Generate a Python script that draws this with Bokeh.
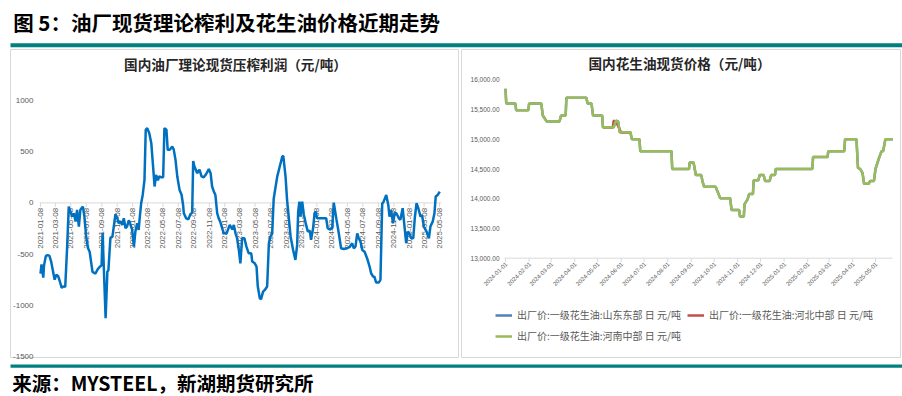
import pandas as pd
from math import pi
from bokeh.plotting import figure
from bokeh.layouts import column, row
from bokeh.models import Range1d, Legend, LegendItem
from bokeh.core.properties import value
from bokeh.embed import file_html
from bokeh.resources import INLINE

# ---------------- data ----------------
header_text = "图 5：油厂现货理论榨利及花生油价格近期走势"
footer_text = "来源：MYSTEEL，新湖期货研究所"
left_title = "国内油厂理论现货压榨利润（元/吨）"
right_title = "国内花生油现货价格（元/吨）"

margin_dates = [
    "2021-01-08", "2021-01-12", "2021-01-19", "2021-01-22", "2021-01-29", "2021-02-05", "2021-02-12",
    "2021-02-19", "2021-02-26", "2021-03-05", "2021-03-12", "2021-03-19", "2021-03-26", "2021-04-02",
    "2021-04-09", "2021-04-16", "2021-04-23", "2021-04-30", "2021-05-07", "2021-05-14", "2021-05-20",
    "2021-05-27", "2021-06-02", "2021-06-09", "2021-06-15", "2021-06-25", "2021-07-01", "2021-07-08",
    "2021-07-15", "2021-07-22", "2021-08-02", "2021-08-14", "2021-08-22", "2021-08-30", "2021-09-07",
    "2021-09-11", "2021-09-23", "2021-09-30", "2021-10-04", "2021-10-12", "2021-10-20", "2021-11-01",
    "2021-11-08", "2021-11-14", "2021-11-21", "2021-11-28", "2021-12-04", "2021-12-11", "2021-12-17",
    "2021-12-24", "2021-12-31", "2022-01-06", "2022-01-13", "2022-01-19", "2022-01-26", "2022-02-01",
    "2022-02-05", "2022-02-11", "2022-02-17", "2022-02-24", "2022-03-01", "2022-03-07", "2022-03-15",
    "2022-03-23", "2022-03-29", "2022-04-05", "2022-04-11", "2022-04-18", "2022-04-24", "2022-05-01",
    "2022-05-09", "2022-05-14", "2022-05-22", "2022-05-27", "2022-06-04", "2022-06-14", "2022-06-20",
    "2022-06-27", "2022-07-04", "2022-07-13", "2022-07-21", "2022-07-27", "2022-07-30", "2022-08-08",
    "2022-08-17", "2022-08-25", "2022-09-01", "2022-09-05", "2022-09-10", "2022-09-21", "2022-09-30",
    "2022-10-08", "2022-10-17", "2022-10-26", "2022-11-06", "2022-11-13", "2022-11-19", "2022-11-26",
    "2022-12-02", "2022-12-09", "2022-12-15", "2022-12-22", "2023-01-04", "2023-01-15", "2023-01-28",
    "2023-02-07", "2023-02-13", "2023-02-20", "2023-02-26", "2023-03-05", "2023-03-11", "2023-03-18",
    "2023-03-27", "2023-04-04", "2023-04-13", "2023-04-23", "2023-04-27", "2023-05-07", "2023-05-14",
    "2023-05-19", "2023-05-27", "2023-06-01", "2023-06-09", "2023-06-16", "2023-06-25", "2023-07-02",
    "2023-07-08", "2023-07-15", "2023-07-21", "2023-08-04", "2023-08-14", "2023-08-24", "2023-08-28",
    "2023-09-06", "2023-09-12", "2023-09-26", "2023-10-06", "2023-10-15", "2023-10-22", "2023-10-26",
    "2023-10-31", "2023-11-04", "2023-11-11", "2023-11-17", "2023-11-24", "2023-12-03", "2023-12-11",
    "2023-12-16", "2023-12-24", "2023-12-30", "2024-01-03", "2024-01-09", "2024-01-22", "2024-02-04",
    "2024-02-14", "2024-02-20", "2024-02-28", "2024-03-09", "2024-03-15", "2024-03-26", "2024-04-04",
    "2024-04-13", "2024-04-24", "2024-05-07", "2024-05-17", "2024-05-27", "2024-06-02", "2024-06-09",
    "2024-06-16", "2024-06-22", "2024-06-29", "2024-07-06", "2024-07-15", "2024-07-25", "2024-08-04",
    "2024-08-10", "2024-08-18", "2024-08-23", "2024-08-30", "2024-09-09", "2024-09-16", "2024-09-23",
    "2024-09-27", "2024-10-09", "2024-10-17", "2024-10-22", "2024-10-28", "2024-11-05", "2024-11-11",
    "2024-11-18", "2024-11-28", "2024-12-04", "2024-12-13", "2024-12-27", "2025-01-02", "2025-01-09",
    "2025-01-16", "2025-01-24", "2025-01-30", "2025-02-06", "2025-02-13", "2025-02-22", "2025-02-28",
    "2025-03-07", "2025-03-18", "2025-03-27", "2025-04-02", "2025-04-11", "2025-04-18", "2025-04-23",
    "2025-05-01", "2025-05-09",
]
margin_vals = [
    -690, -600, -730, -610, -520, -510, -515,
    -570, -660, -750, -700, -715, -770, -830,
    -815, -820, -460, -36, -90, -134, -100,
    -182, -68, -231, -68, -36, -134, -329,
    -440, -480, -674, -690, -650, -625, -610,
    -293, -1127, -670, -660, -342, -330, -110,
    -150, -199, -180, -215, -150, -248, -230,
    -170, -215, -260, -427, -280, -199, -264,
    -150, 0, 78, 225, 713, 730, 680,
    583, 390, 160, 274, 220, 260, 250,
    250, 730, 715, 518, 518, 550, 520,
    420, 257, 127, 80, -20, -101, -150,
    -160, -110, -95, 410, 355, 290, 325,
    260, 250, 280, 330, 290, 160, 110,
    78, -100, -150, -190, -297, -300, -215,
    -260, -215, -300, -345, -460, -590, -345,
    -345, -427, -492, -492, -573, -590, -622,
    -817, -931, -940, -866, -850, -817, -394,
    -330, -300, 40, 257, 355, 452, 460,
    257, 30, -330, -460, -557, -410, -85,
    13, -134, 13, -110, -190, -280, -270,
    -361, -250, -101, -85, -150, -150, -150,
    -150, -247, -260, -247, 3, -166, -297,
    -443, -450, -443, -430, -394, -443, -427,
    -297, -345, -378, -460, -476, -540, -622,
    -687, -720, -720, -778, -778, -752, -3,
    3, 78, -20, -134, -68, -199, -101,
    -101, -150, -165, -52, -394, -280, -300,
    -345, -345, -150, -3, -52, -134, -120,
    -231, -280, -345, -231, -183, -101, 62,
    78, 110,
]
left_xticks = [
    "2021-01-08", "2021-03-08", "2021-05-08", "2021-07-08", "2021-09-08", "2021-11-08",
    "2022-01-08", "2022-03-08", "2022-05-08", "2022-07-08", "2022-09-08", "2022-11-08",
    "2023-01-08", "2023-03-08", "2023-05-08", "2023-07-08", "2023-09-08", "2023-11-08",
    "2024-01-08", "2024-03-08", "2024-05-08", "2024-07-08", "2024-09-08", "2024-11-08",
    "2025-01-08", "2025-03-08", "2025-05-08",
]
left_yticks = [1000, 500, 0, -500, -1000, -1500]

price_dates = [
    "2024-01-01", "2024-01-02", "2024-01-14", "2024-01-15", "2024-01-31", "2024-02-01", "2024-02-17",
    "2024-02-19", "2024-02-24", "2024-03-12", "2024-03-14", "2024-03-20", "2024-03-21", "2024-04-16",
    "2024-04-18", "2024-04-23", "2024-04-25", "2024-05-07", "2024-05-08", "2024-05-22", "2024-05-25",
    "2024-05-28", "2024-05-30", "2024-06-13", "2024-06-15", "2024-06-25", "2024-06-26", "2024-08-06",
    "2024-08-07", "2024-08-29", "2024-08-30", "2024-09-04", "2024-09-07", "2024-09-14", "2024-09-16",
    "2024-09-18", "2024-10-03", "2024-10-09", "2024-10-22", "2024-10-24", "2024-11-03", "2024-11-04",
    "2024-11-09", "2024-11-10", "2024-11-14", "2024-11-16", "2024-11-21", "2024-11-22", "2024-11-28",
    "2024-11-30", "2024-12-05", "2024-12-07", "2024-12-13", "2024-12-15", "2024-12-20", "2024-12-21",
    "2025-02-07", "2025-02-08", "2025-02-27", "2025-02-28", "2025-03-21", "2025-03-22", "2025-04-06",
    "2025-04-08", "2025-04-11", "2025-04-14", "2025-04-16", "2025-04-22", "2025-04-24", "2025-04-29",
    "2025-05-01", "2025-05-06", "2025-05-09", "2025-05-11", "2025-05-14", "2025-05-24",
]
henan_vals = [
    15850, 15600, 15600, 15490, 15490, 15600, 15600,
    15400, 15300, 15300, 15400, 15400, 15700, 15700,
    15600, 15600, 15400, 15400, 15200, 15200, 15310,
    15300, 15120, 15120, 15000, 15000, 14800, 14800,
    14500, 14500, 14610, 14610, 14400, 14400, 14280,
    14200, 14200, 14010, 14010, 13810, 13810, 13700,
    13700, 13910, 13990, 14080, 14080, 14310, 14310,
    14400, 14400, 14300, 14300, 14400, 14400, 14500,
    14500, 14700, 14700, 14800, 14800, 15000, 15000,
    14520, 14500, 14430, 14250, 14250, 14300, 14300,
    14500, 14700, 14800, 14800, 15000, 15000,
]
# 山东东部 is fully hidden under 河南中部 in the picture: same readings
shandong_dates = list(price_dates)
shandong_vals = list(henan_vals)
# 河北中部 only shows where it departs from 河南中部
hebei_dates = ["2024-05-08", "2024-05-21", "2024-05-22", "2024-05-25", "2024-06-01", "2024-06-13"]
hebei_vals = [15200, 15200, 15310, 15300, 15115, 15120]

right_xticks = [
    "2024-01-01", "2024-02-01", "2024-03-01", "2024-04-01", "2024-05-01", "2024-06-01",
    "2024-07-01", "2024-08-01", "2024-09-01", "2024-10-01", "2024-11-01", "2024-12-01",
    "2025-01-01", "2025-02-01", "2025-03-01", "2025-04-01", "2025-05-01",
]
right_yticks = [16000, 15500, 15000, 14500, 14000, 13500, 13000]
legend_labels = [
    "出厂价:一级花生油:山东东部 日 元/吨",
    "出厂价:一级花生油:河北中部 日 元/吨",
    "出厂价:一级花生油:河南中部 日 元/吨",
]

# ---------------- styles ----------------
CJK = "Noto Sans CJK SC"
NUM = "Liberation Sans"
GRAY = "#595959"
TEAL = "#008080"
BORDER = "#d9d9d9"
AXIS = "#d9d9d9"


def ms(s):
    return pd.Timestamp(s).value / 1e6


def make_panel(width, height, x_ref, y_ref):
    (d0, px0), (d1, px1) = x_ref
    m0, m1 = ms(d0), ms(d1)
    kx = (m1 - m0) / (px1 - px0)
    (v0, py0), (v1, py1) = y_ref
    ky = (v1 - v0) / (py1 - py0)
    x_start = m0 - px0 * kx
    x_end = m0 + (width - px0) * kx
    y_top = v0 - py0 * ky
    y_bot = v0 + (height - py0) * ky
    p = figure(width=width, height=height, title=None,
               x_range=Range1d(x_start, x_end), y_range=Range1d(y_bot, y_top),
               x_axis_location=None, y_axis_location=None,
               toolbar_location=None, output_backend="svg", min_border=0,
               outline_line_color=None, background_fill_color="white",
               border_fill_color="white")
    p.xgrid.grid_line_color = None
    p.ygrid.grid_line_color = None

    def fx(px):
        return x_start + px * kx

    def fy(py):
        return y_top + py * ky

    return p, fx, fy, ky


# ---------------- left panel ----------------
pL, fxL, fyL, kyL = make_panel(459, 312, (("2021-01-08", 40), ("2025-05-08", 439)),
                               ((1000, 52), (-1500, 308)))
pL.quad(left=[fxL(10)], right=[fxL(458)], top=[fyL(1)], bottom=[fyL(309)],
        fill_color=None, line_color=BORDER, line_width=1)
pL.segment(x0=[fxL(39)], x1=[fxL(441)], y0=[0], y1=[0], line_color=AXIS, line_width=1)
lx = pd.to_datetime(left_xticks)
pL.segment(x0=lx, x1=lx, y0=[0] * len(lx), y1=[4 * kyL] * len(lx), line_color=AXIS, line_width=1)
pL.text(x=lx, y=[0] * len(lx), text=left_xticks, angle=pi / 2, text_align="right",
        text_baseline="middle", y_offset=5, text_font=value(NUM), text_font_size="8px",
        text_color=GRAY)
pL.text(x=[fxL(33)] * len(left_yticks), y=left_yticks, text=[str(v) for v in left_yticks],
        text_align="right", text_baseline="middle", text_font=value(NUM),
        text_font_size="8px", text_color=GRAY)
pL.text(x=[fxL(235)], y=[fyL(15)], text=[left_title], text_align="center",
        text_baseline="middle", text_font=value(CJK), text_font_style="bold",
        text_font_size="13.6px", text_color="#262626")
pL.line(x=pd.to_datetime(margin_dates), y=margin_vals, line_color="#0070C0", line_width=2.5)

# ---------------- right panel ----------------
pR, fxR, fyR, kyR = make_panel(443, 312, (("2024-01-01", 46), ("2025-05-01", 416)),
                               ((16000, 31.3), (13000, 209.7)))
pR.quad(left=[fxR(2)], right=[fxR(441)], top=[fyR(1)], bottom=[fyR(309)],
        fill_color=None, line_color=BORDER, line_width=1)
base = right_yticks[-1]
pR.segment(x0=[fxR(45)], x1=[fxR(433)], y0=[base], y1=[base], line_color=AXIS, line_width=1)
rx = pd.to_datetime(right_xticks)
pR.segment(x0=rx, x1=rx, y0=[base] * len(rx), y1=[base + 4 * kyR] * len(rx),
           line_color=AXIS, line_width=1)
pR.text(x=rx, y=[base] * len(rx), text=right_xticks, angle=pi / 4, text_align="right",
        text_baseline="middle", x_offset=1, y_offset=5, text_font=value(NUM),
        text_font_size="6px", text_color=GRAY)
pR.text(x=[fxR(40)] * len(right_yticks), y=right_yticks,
        text=[f"{v:,.2f}" for v in right_yticks], text_align="right",
        text_baseline="middle", text_font=value(NUM), text_font_size="6.5px",
        text_color=GRAY)
pR.text(x=[fxR(220)], y=[fyR(14)], text=[right_title], text_align="center",
        text_baseline="middle", text_font=value(CJK), text_font_style="bold",
        text_font_size="13.6px", text_color="#262626")
r_sd = pR.line(x=pd.to_datetime(shandong_dates), y=shandong_vals, line_color="#4F81BD", line_width=2.5)
r_hb = pR.line(x=pd.to_datetime(hebei_dates), y=hebei_vals, line_color="#C0504D", line_width=2.5)
r_hn = pR.line(x=pd.to_datetime(price_dates), y=henan_vals, line_color="#9BBB59", line_width=2.5)

legend = Legend(items=[LegendItem(label=legend_labels[0], renderers=[r_sd]),
                       LegendItem(label=legend_labels[1], renderers=[r_hb]),
                       LegendItem(label=legend_labels[2], renderers=[r_hn])],
                location=(36, 17), orientation="horizontal", ncols=2,
                label_text_font=CJK, label_text_font_size="10px", label_text_color=GRAY,
                glyph_width=17, glyph_height=14, label_height=14, label_standoff=5,
                spacing=6, padding=0, margin=0, border_line_color=None,
                background_fill_alpha=0)
pR.add_layout(legend)

# ---------------- header / footer ----------------
pH = figure(width=902, height=48, title=None, x_range=Range1d(0, 902), y_range=Range1d(48, 0),
            x_axis_location=None, y_axis_location=None, toolbar_location=None,
            output_backend="svg", min_border=0, outline_line_color=None)
pH.xgrid.grid_line_color = None
pH.ygrid.grid_line_color = None
pH.text(x=[12.7], y=[21], text=[header_text], text_align="left", text_baseline="middle",
        text_font=value(CJK), text_font_style="bold", text_font_size="20.5px", text_color="black")
pH.quad(left=[10], right=[902], top=[42.7], bottom=[46.7], fill_color=TEAL, line_color=None)

pF = figure(width=902, height=36, title=None, x_range=Range1d(0, 902), y_range=Range1d(36, 0),
            x_axis_location=None, y_axis_location=None, toolbar_location=None,
            output_backend="svg", min_border=0, outline_line_color=None)
pF.xgrid.grid_line_color = None
pF.ygrid.grid_line_color = None
pF.quad(left=[10], right=[902], top=[4], bottom=[7.3], fill_color=TEAL, line_color=None)
pF.text(x=[11.7], y=[22], text=[footer_text], text_align="left", text_baseline="middle",
        text_font=value(CJK), text_font_style="bold", text_font_size="19.5px", text_color="black")

layout = column(pH, row(pL, pR), pF)
open("out.html", "w").write(file_html(layout, INLINE))
